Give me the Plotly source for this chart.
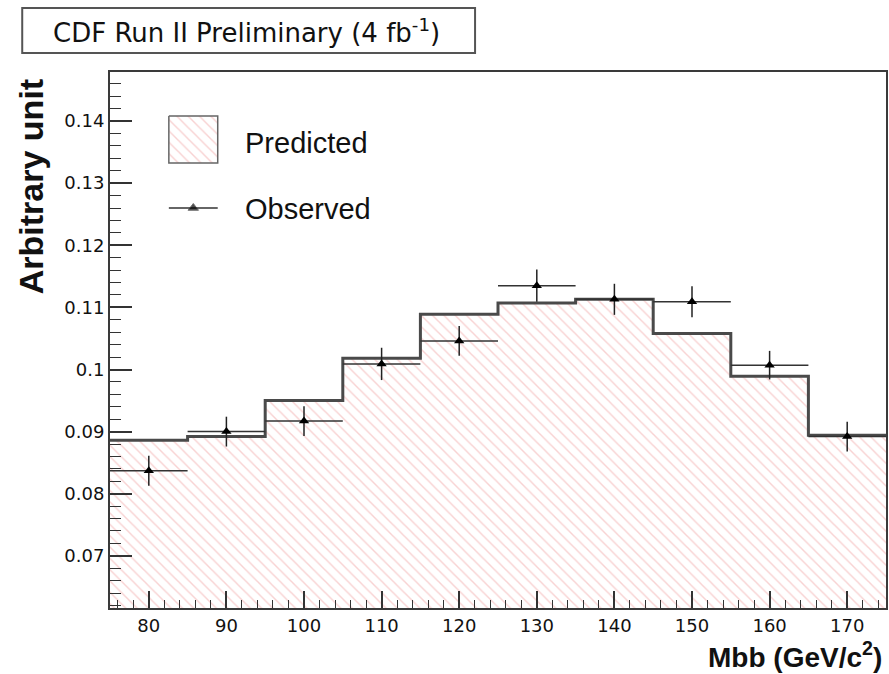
import plotly.graph_objects as go

# ---- data -------------------------------------------------------------
bin_edges = [75, 85, 95, 105, 115, 125, 135, 145, 155, 165, 175]
bin_centers = [80, 90, 100, 110, 120, 130, 140, 150, 160, 170]
predicted = [0.0886, 0.0892, 0.0950, 0.1018, 0.1089,
             0.1107, 0.1113, 0.1058, 0.0989, 0.0894]
observed = [0.0837, 0.0900, 0.0917, 0.1009, 0.1046,
            0.1135, 0.1113, 0.1109, 0.1007, 0.0892]
observed_err = [0.0024, 0.0024, 0.0024, 0.0026, 0.0024,
                0.0026, 0.0025, 0.0025, 0.0023, 0.0024]
bin_half_width = [5] * len(bin_centers)

x_range = [75, 175]
y_range = [0.0616, 0.1479]

# ---- canvas geometry (pixels) ----------------------------------------
W, H = 889, 674
L, R, T, B = 110, 1, 72, 66
PW, PH = W - L - R, H - T - B

HATCH = dict(shape="\\", fgcolor="#f2a6a6", bgcolor="white", size=8, solidity=0.18)
LINE_GREY = "#4a4a4a"
TICK_FONT = dict(family="DejaVu Sans", size=18, color="#111")


def px_x(p):
    return (p - L) / PW


def px_y(p):
    return 1 - (p - T) / PH


fig = go.Figure()

# predicted histogram: step outline with hatched fill
fig.add_trace(go.Scatter(
    x=bin_edges,
    y=predicted + [predicted[-1]],
    mode="lines",
    line=dict(shape="hv", color=LINE_GREY, width=3),
    fill="tozeroy",
    fillcolor="rgba(0,0,0,0)",
    fillpattern=HATCH,
    showlegend=False,
    hoverinfo="skip",
))

# observed points with errors
fig.add_trace(go.Scatter(
    x=bin_centers,
    y=observed,
    mode="markers",
    marker=dict(symbol="triangle-up", size=9, color="black"),
    error_y=dict(type="data", array=observed_err, color="#222", thickness=1.5, width=0),
    error_x=dict(type="data", array=bin_half_width, color="#333", thickness=1.5, width=0),
    showlegend=False,
))

# legend drawn on a pixel-unit overlay
leg_box = dict(x0=169, x1=218, y0=116, y1=163)
leg_line_y = 208
fig.add_trace(go.Scatter(
    x=[leg_box["x0"], leg_box["x1"], leg_box["x1"], leg_box["x0"], leg_box["x0"]],
    y=[leg_box["y0"], leg_box["y0"], leg_box["y1"], leg_box["y1"], leg_box["y0"]],
    xaxis="x2", yaxis="y2",
    mode="lines", line=dict(color="#666", width=1.5),
    fill="toself", fillcolor="rgba(0,0,0,0)", fillpattern=HATCH,
    showlegend=False, hoverinfo="skip",
))
fig.add_trace(go.Scatter(
    x=[leg_box["x0"], (leg_box["x0"] + leg_box["x1"]) / 2, leg_box["x1"]],
    y=[leg_line_y] * 3,
    xaxis="x2", yaxis="y2",
    mode="lines+markers",
    line=dict(color="#333", width=1.5),
    marker=dict(symbol="triangle-up", size=[0, 9, 0], color="black"),
    showlegend=False, hoverinfo="skip",
))

annotations = [
    dict(text="Predicted", x=px_x(243), y=px_y(143), xref="paper", yref="paper",
         xanchor="left", yanchor="middle", showarrow=False,
         font=dict(family="Liberation Sans, Arial", size=29, color="#111")),
    dict(text="Observed", x=px_x(243), y=px_y(209), xref="paper", yref="paper",
         xanchor="left", yanchor="middle", showarrow=False,
         font=dict(family="Liberation Sans, Arial", size=29, color="#111")),
    # header
    dict(text="CDF Run II Preliminary (4 fb<sup>-1</sup>)", x=px_x(247), y=px_y(31),
         xref="paper", yref="paper", xanchor="center", yanchor="middle", showarrow=False,
         font=dict(family="DejaVu Sans", size=26, color="#111")),
    # axis titles
    dict(text="<b>Arbitrary unit</b>", x=px_x(31), y=px_y(187), xref="paper", yref="paper",
         xanchor="center", yanchor="middle", textangle=-90, showarrow=False,
         font=dict(family="Liberation Sans, Arial", size=34, color="#111")),
    dict(text="<b>Mbb (GeV/c<sup>2</sup>)</b>", x=px_x(886), y=px_y(655), xref="paper", yref="paper",
         xanchor="right", yanchor="middle", showarrow=False,
         font=dict(family="Liberation Sans, Arial", size=28, color="#111")),
]

shapes = [
    dict(type="rect", xref="paper", yref="paper",
         x0=px_x(22), x1=px_x(476), y0=px_y(8), y1=px_y(53),
         line=dict(color="#555", width=2), fillcolor="white", layer="below"),
]

fig.update_layout(
    width=W, height=H, autosize=False,
    margin=dict(l=L, r=R, t=T, b=B, pad=0),
    plot_bgcolor="white", paper_bgcolor="white",
    font=dict(family="Liberation Sans, Arial", color="#111"),
    showlegend=False,
    annotations=annotations,
    shapes=shapes,
    xaxis=dict(
        range=x_range, dtick=10, tick0=0,
        ticks="inside", ticklen=17, tickwidth=1.5, tickcolor="#333",
        minor=dict(ticks="inside", ticklen=8, dtick=2, tick0=0, tickcolor="#333", tickwidth=1.2),
        showgrid=False, zeroline=False,
        showline=True, linecolor="#3a3a3a", linewidth=2, mirror=True,
        tickfont=TICK_FONT,
    ),
    yaxis=dict(
        range=y_range, dtick=0.01, tick0=0,
        ticks="inside", ticklen=22, tickwidth=1.5, tickcolor="#333",
        minor=dict(ticks="inside", ticklen=11, dtick=0.002, tick0=0, tickcolor="#333", tickwidth=1.2),
        showgrid=False, zeroline=False,
        showline=True, linecolor="#3a3a3a", linewidth=2, mirror=True,
        tickfont=TICK_FONT,
    ),
    xaxis2=dict(overlaying="x", anchor="y2", range=[L, W - R], visible=False, fixedrange=True),
    yaxis2=dict(overlaying="y", anchor="x2", range=[H - B, T], visible=False, fixedrange=True),
)

fig.write_html("out.html")
